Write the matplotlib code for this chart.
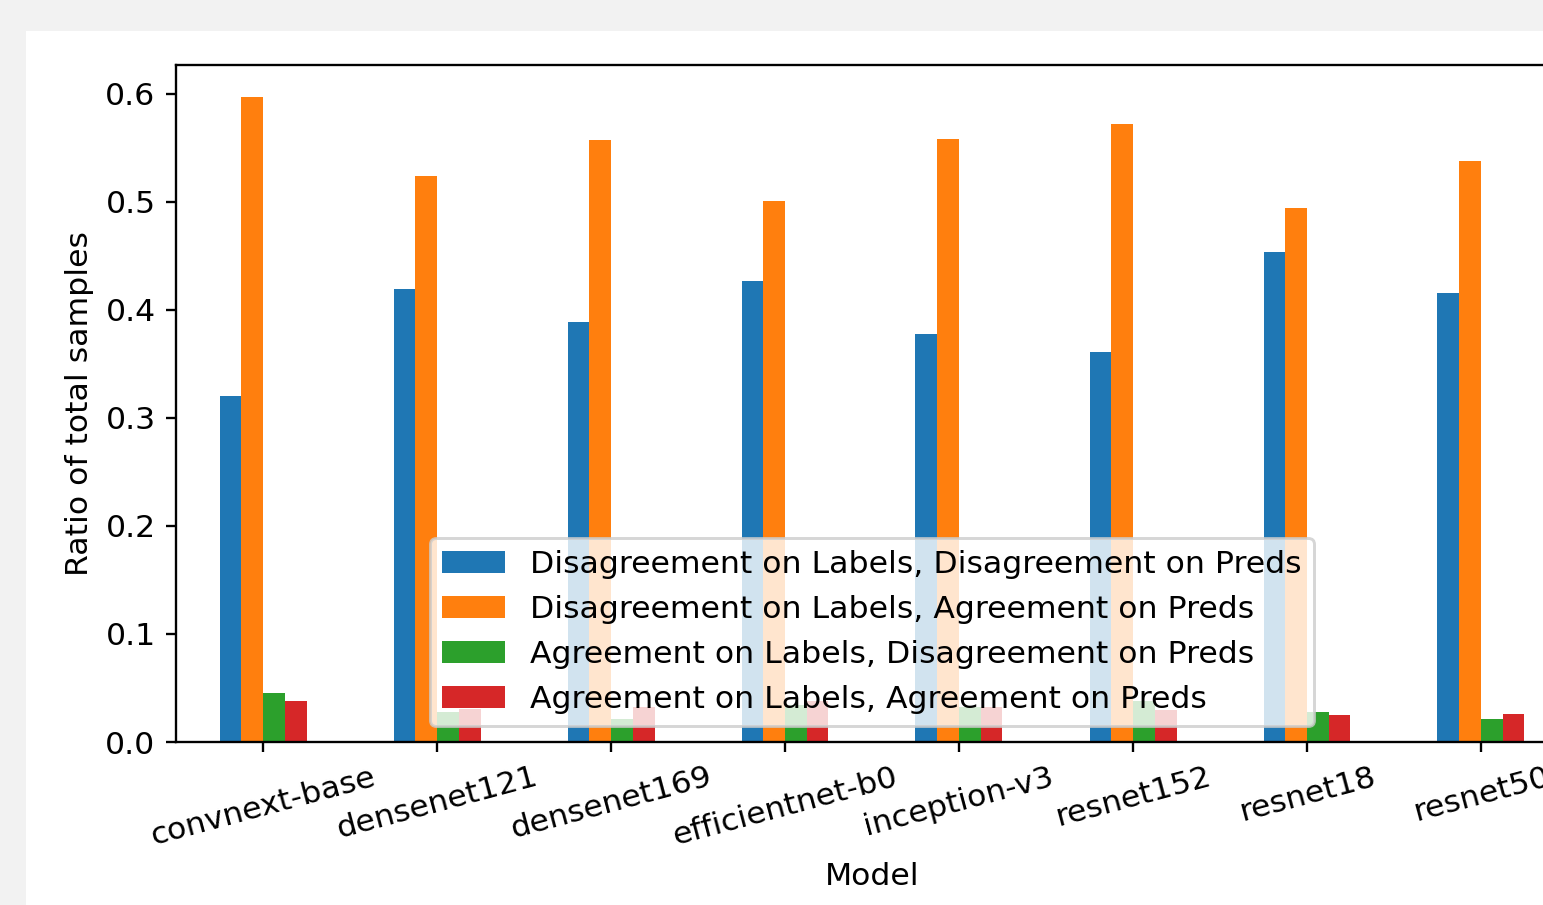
import matplotlib
matplotlib.use("Agg")
import matplotlib.pyplot as plt
import numpy as np
from matplotlib.patches import Rectangle

models = ["convnext-base", "densenet121", "densenet169", "efficientnet-b0",
          "inception-v3", "resnet152", "resnet18", "resnet50"]
series_names = ["Disagreement on Labels, Disagreement on Preds",
                "Disagreement on Labels, Agreement on Preds",
                "Agreement on Labels, Disagreement on Preds",
                "Agreement on Labels, Agreement on Preds"]
dis_dis = [0.320, 0.419, 0.389, 0.427, 0.378, 0.361, 0.454, 0.416]
dis_agr = [0.597, 0.524, 0.557, 0.501, 0.558, 0.572, 0.494, 0.538]
agr_dis = [0.045, 0.028, 0.021, 0.034, 0.032, 0.038, 0.028, 0.021]
agr_agr = [0.038, 0.031, 0.032, 0.038, 0.032, 0.030, 0.025, 0.026]
series = [dis_dis, dis_agr, agr_dis, agr_agr]
colors = ["#1f77b4", "#ff7f0e", "#2ca02c", "#d62728"]

plt.rcParams["font.size"] = 10.8

W, H, DPI = 1543, 905, 210
fig = plt.figure(figsize=(W / DPI, H / DPI), dpi=DPI, facecolor="#f2f2f2")
# white page area behind the plot
fig.patches.append(Rectangle((26 / W, 0), 1, (H - 31) / H, transform=fig.transFigure,
                             facecolor="white", edgecolor="none", zorder=-10))

ax = fig.add_axes([176 / W, (H - 742) / H, 8 * 174 / W, (742 - 65) / H])
x = np.arange(len(models))
bw = 0.125
for i, (vals, name, c) in enumerate(zip(series, series_names, colors)):
    ax.bar(x + (i - 1.5) * bw, vals, bw, color=c, label=name)

ax.set_xlim(-0.5, len(models) - 0.5)
ax.set_xticks(x)
ax.set_xticklabels(models, rotation=15)
ax.set_xlabel("Model")
ax.set_ylabel("Ratio of total samples")
ax.legend(loc="lower center")

fig.savefig("out.png", dpi=DPI, facecolor=fig.get_facecolor())
